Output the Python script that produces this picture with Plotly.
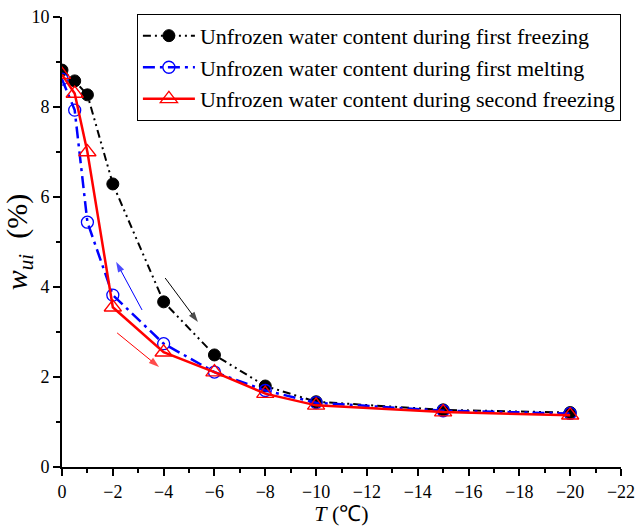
import plotly.graph_objects as go

temps = [0, -0.5, -1, -2, -4, -6, -8, -10, -15, -20]
first_freezing = [8.82, 8.58, 8.27, 6.29, 3.67, 2.49, 1.80, 1.45, 1.27, 1.21]
first_melting = [8.62, 7.93, 5.44, 3.82, 2.74, 2.11, 1.70, 1.43, 1.25, 1.19]
second_freezing = [8.72, 8.30, 7.00, 3.55, 2.55, 2.11, 1.63, 1.37, 1.22, 1.15]

names = ["Unfrozen water content during first freezing",
         "Unfrozen water content during first melting",
         "Unfrozen water content during second freezing"]

font_family = "Liberation Serif"

fig = go.Figure()
fig.add_trace(go.Scatter(
    x=temps, y=first_freezing, name=names[0], mode="lines+markers",
    line=dict(color="black", width=2, dash="8px,4px,2px,4px,2px,4px"),
    marker=dict(symbol="circle", size=12, color="black", line=dict(color="black", width=1))))
fig.add_trace(go.Scatter(
    x=temps, y=first_melting, name=names[1], mode="lines+markers",
    line=dict(color="#0000ff", width=2.5, dash="12px,5px,3px,5px"),
    marker=dict(symbol="circle-open", size=12, color="#0000ff", line=dict(width=1.3))))
fig.add_trace(go.Scatter(
    x=temps, y=second_freezing, name=names[2], mode="lines+markers",
    line=dict(color="#ff0000", width=2.5),
    marker=dict(symbol="triangle-up-open", size=15, color="#ff0000", line=dict(width=1.3))))

# direction arrows (start x, start y, end x, end y, colour)
arrows = [
    (-4.06, 4.20, -5.35, 3.22, "black"),
    (-3.15, 3.49, -2.13, 4.56, "#0000ff"),
    (-2.17, 2.98, -3.82, 2.22, "#ff0000"),
]
for x0, y0, x1, y1, c in arrows:
    fig.add_trace(go.Scatter(
        x=[x0, x1], y=[y0, y1], mode="lines+markers", showlegend=False, hoverinfo="skip",
        line=dict(color=c, width=1),
        marker=dict(symbol=["line-ew", "arrow"], size=[0, 11], angleref="previous",
                    color=c, line=dict(width=0, color=c))))

fig.update_layout(
    width=635, height=526,
    margin=dict(l=62, r=14, t=17, b=59, autoexpand=False),
    paper_bgcolor="white", plot_bgcolor="white",
    font=dict(family=font_family, size=18, color="black"),
    showlegend=True,
    legend=dict(x=0.134, y=1.007, xanchor="left", yanchor="top",
                bordercolor="black", borderwidth=1, bgcolor="white",
                font=dict(family=font_family, size=22), itemwidth=52,
                tracegroupgap=0, traceorder="normal"),
)
fig.update_xaxes(
    range=[0, -22], tickmode="array", tickvals=list(range(0, -23, -2)),
    ticktext=["0"] + ["\u2212" + str(v) for v in range(2, 23, 2)],
    ticks="outside", ticklen=7, tickwidth=1.5, tickcolor="black", ticklabeloverflow="allow",
    minor=dict(tickvals=list(range(-1, -22, -2)), ticks="outside", ticklen=4, tickwidth=1.5, tickcolor="black"),
    showline=True, linecolor="black", linewidth=2, showgrid=False, zeroline=False, automargin=False,
    tickfont=dict(size=18, family=font_family),
    title=dict(text="<i>T</i> (\u2103)", font=dict(size=22, family=font_family), standoff=4),
)
fig.update_yaxes(
    range=[0, 10], tickmode="array", tickvals=[0, 2, 4, 6, 8, 10],
    ticks="outside", ticklen=7, tickwidth=1.5, tickcolor="black",
    minor=dict(tickvals=[1, 3, 5, 7, 9], ticks="outside", ticklen=4, tickwidth=1.5, tickcolor="black"),
    showline=True, linecolor="black", linewidth=2, showgrid=False, zeroline=False, automargin=False,
    tickfont=dict(size=18, family=font_family),
    title=dict(text="<i>w</i><sub><i>ui</i></sub>  (%)", font=dict(size=30, family=font_family), standoff=6),
)

fig.write_html("out.html")
